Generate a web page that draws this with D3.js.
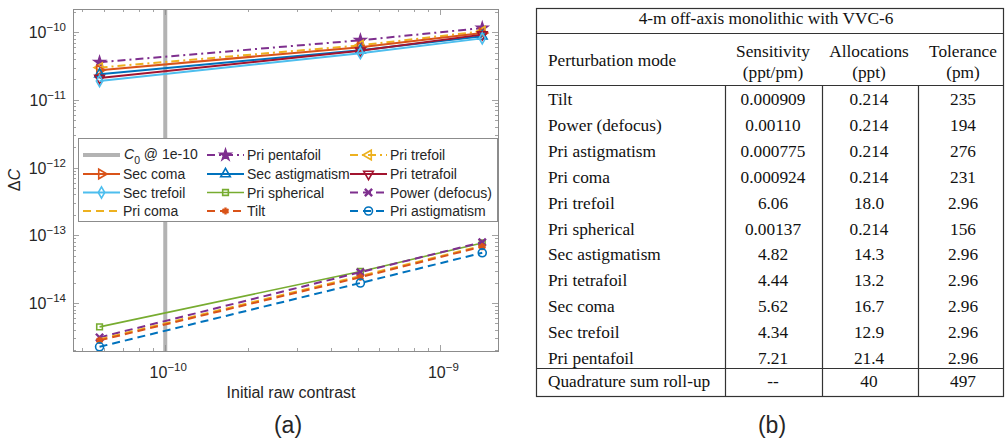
<!DOCTYPE html>
<html>
<head>
<script src="https://cdnjs.cloudflare.com/ajax/libs/d3/7.8.5/d3.min.js"></script>
<style>
    body { margin: 0; background: #fff; }
    svg text { font-family: "Liberation Sans", Arial, sans-serif; fill: #262626; }
    .tbl text { font-family: "Liberation Serif", "Times New Roman", serif; fill: #111; font-size: 17.3px; }
</style>
</head>
<body>
<script>
// ---- chart (a) data ----
var contrast = [5.77e-11, 5.12e-10, 1.42e-9];
var c0 = 1e-10;
var seriesNames = ["Pri pentafoil", "Pri trefoil", "Sec coma", "Sec astigmatism", "Pri tetrafoil",
    "Sec trefoil", "Pri spherical", "Power (defocus)", "Pri coma", "Tilt", "Pri astigmatism"];
var seriesValues = [
    [3.6e-11, 7.6e-11, 1.15e-10],   // Pri pentafoil
    [3.0e-11, 6.4e-11, 1.03e-10],   // Pri trefoil
    [2.75e-11, 6.0e-11, 9.7e-11],   // Sec coma
    [2.4e-11, 5.4e-11, 8.7e-11],    // Sec astigmatism
    [2.1e-11, 5.3e-11, 9.2e-11],    // Pri tetrafoil
    [1.9e-11, 4.9e-11, 8.1e-11],    // Sec trefoil
    [4.43e-15, 2.92e-14, 7.7e-14],  // Pri spherical
    [3.1e-15, 2.85e-14, 7.9e-14],   // Power (defocus)
    [2.9e-15, 2.5e-14, 7.0e-14],    // Pri coma
    [2.8e-15, 2.4e-14, 6.8e-14],    // Tilt
    [2.25e-15, 1.97e-14, 5.5e-14]   // Pri astigmatism
];
var legendOrder = ["C0", "Pri pentafoil", "Pri trefoil", "Sec coma", "Sec astigmatism", "Pri tetrafoil",
    "Sec trefoil", "Pri spherical", "Power (defocus)", "Pri coma", "Tilt", "Pri astigmatism"];
var yTickExp = [-14, -13, -12, -11, -10];
var xTickExp = [-10, -9];

// ---- table (b) data ----
var tableTitle = "4-m off-axis monolithic with VVC-6";
var headers = [["Perturbation mode"], ["Sensitivity", "(ppt/pm)"], ["Allocations", "(ppt)"], ["Tolerance", "(pm)"]];
var modes = ["Tilt", "Power (defocus)", "Pri astigmatism", "Pri coma", "Pri trefoil", "Pri spherical",
    "Sec astigmatism", "Pri tetrafoil", "Sec coma", "Sec trefoil", "Pri pentafoil"];
var sensitivity = ["0.000909", "0.00110", "0.000775", "0.000924", "6.06", "0.00137", "4.82", "4.44", "5.62", "4.34", "7.21"];
var allocations = ["0.214", "0.214", "0.214", "0.214", "18.0", "0.214", "14.3", "13.2", "16.7", "12.9", "21.4"];
var tolerance = ["235", "194", "276", "231", "2.96", "156", "2.96", "2.96", "2.96", "2.96", "2.96"];
var rollup = ["Quadrature sum roll-up", "--", "40", "497"];

// styles
var blue = "#0072BD", orange = "#D95319", yellow = "#EDB120", purple = "#7E2F8E",
    green = "#77AC30", cyan = "#4DBEEE", red = "#A2142F";
var DASH = "8,5", DASHDOT = "8,4,2,4";
var styles = {
    "Pri pentafoil":   {c: purple, dash: DASHDOT, m: "star"},
    "Pri trefoil":     {c: yellow, dash: DASHDOT, m: "triL"},
    "Sec coma":        {c: orange, dash: null, m: "triR"},
    "Sec astigmatism": {c: blue, dash: null, m: "triU"},
    "Pri tetrafoil":   {c: red, dash: null, m: "triD"},
    "Sec trefoil":     {c: cyan, dash: null, m: "diamond"},
    "Pri spherical":   {c: green, dash: null, m: "square", w: 1.6},
    "Power (defocus)": {c: purple, dash: DASH, m: "x"},
    "Pri coma":        {c: yellow, dash: DASH, m: null},
    "Tilt":            {c: orange, dash: DASH, m: "asterisk"},
    "Pri astigmatism": {c: blue, dash: DASH, m: "circle"}
};

var W = 1005, H = 441;
var svg = d3.select("body").append("svg").attr("width", W).attr("height", H);
svg.append("rect").attr("width", W).attr("height", H).attr("fill", "#fff");

var L = 73, R = 498, T = 9, B = 351;
var x = d3.scaleLog().domain([4.62e-11, 1.62e-9]).range([L, R]);
var y = d3.scaleLog().domain([1.95e-15, 2.2e-10]).range([B, T]);

var plot = svg.append("g");
svg.append("clipPath").attr("id", "clip").append("rect")
    .attr("x", L).attr("y", T).attr("width", R - L).attr("height", B - T);

// axis box and ticks
var axisCol = "#8c8c8c";
var ticks = svg.append("g").attr("stroke", axisCol).attr("stroke-width", 0.8);
function minorTicks(scale, lo, hi) {
    var out = [];
    for (var e = lo; e <= hi; e++) {
        for (var k = 1; k <= 9; k++) {
            var v = k * Math.pow(10, e);
            if (v >= scale.domain()[0] && v <= scale.domain()[1]) out.push({v: v, major: k === 1});
        }
    }
    return out;
}
minorTicks(y, -15, -10).forEach(function(t) {
    var len = t.major ? 6 : 3, yy = Math.round(y(t.v)) + 0.5;
    ticks.append("line").attr("x1", L).attr("x2", L + len).attr("y1", yy).attr("y2", yy);
    ticks.append("line").attr("x1", R).attr("x2", R - len).attr("y1", yy).attr("y2", yy);
});
minorTicks(x, -11, -9).forEach(function(t) {
    var len = t.major ? 6 : 3, xx = Math.round(x(t.v)) + 0.5;
    ticks.append("line").attr("y1", B).attr("y2", B - len).attr("x1", xx).attr("x2", xx);
    ticks.append("line").attr("y1", T).attr("y2", T + len).attr("x1", xx).attr("x2", xx);
});

// C0 line
plot.append("line")
    .attr("x1", x(c0)).attr("x2", x(c0)).attr("y1", T).attr("y2", B)
    .attr("stroke", "#b3b3b3").attr("stroke-width", 4);

// markers
function markerPath(m) {
    switch (m) {
        case "star": return d3.symbol(d3.symbolStar, 36)();
        case "triL": case "triR": case "triU": case "triD": return d3.symbol(d3.symbolTriangle, 40)();
        case "diamond": return d3.symbol(d3.symbolDiamond, 36)();
        case "square": return d3.symbol(d3.symbolSquare, 32)();
        case "x": return d3.symbol(d3.symbolTimes || d3.symbolX, 36)();
        case "asterisk": return d3.symbol(d3.symbolAsterisk, 36)();
        case "circle": return d3.symbol(d3.symbolCircle, 50)();
    }
    return null;
}
var rot = {triL: -90, triR: 90, triU: 0, triD: 180};
function drawMarker(g, m, c, px, py) {
    if (!m) return;
    var p = g.append("path").attr("d", markerPath(m))
        .attr("transform", "translate(" + px + "," + py + ")" + (rot[m] !== undefined ? " rotate(" + rot[m] + ")" : ""))
        .attr("stroke", c).attr("stroke-width", m === "x" || m === "asterisk" ? 2.4 : 1.6);
    if (m === "star" || m === "asterisk") p.attr("fill", c);
    else p.attr("fill", "none");
}

var line = d3.line().x(function(d) { return x(d[0]); }).y(function(d) { return y(d[1]); });
var series = plot.append("g").attr("clip-path", "url(#clip)");
seriesNames.forEach(function(name, i) {
    var st = styles[name];
    var pts = contrast.map(function(c, j) { return [c, seriesValues[i][j]]; });
    series.append("path").datum(pts).attr("d", line)
        .attr("fill", "none").attr("stroke", st.c).attr("stroke-width", st.w || 2)
        .attr("stroke-dasharray", st.dash);
    pts.forEach(function(p) { drawMarker(series, st.m, st.c, x(p[0]), y(p[1])); });
});

svg.append("rect").attr("x", L + 0.5).attr("y", T + 0.5).attr("width", R - L).attr("height", B - T)
    .attr("fill", "none").attr("stroke", axisCol).attr("stroke-width", 1);

// tick labels
yTickExp.forEach(function(e) {
    var t = svg.append("text").attr("x", 66).attr("y", y(Math.pow(10, e)) + 6)
        .attr("text-anchor", "end").style("font-size", "16px");
    t.append("tspan").text("10");
    t.append("tspan").attr("dy", -7).style("font-size", "11.5px").text("\u2212" + (-e));
});
xTickExp.forEach(function(e) {
    var t = svg.append("text").attr("x", x(Math.pow(10, e)) + 3).attr("y", 378)
        .attr("text-anchor", "middle").style("font-size", "16px");
    t.append("tspan").text("10");
    t.append("tspan").attr("dy", -7).style("font-size", "11.5px").text("\u2212" + (-e));
});

// axis labels
svg.append("text").attr("x", 291).attr("y", 398).attr("text-anchor", "middle")
    .style("font-size", "16px").text("Initial raw contrast");
var yl = svg.append("text").attr("transform", "translate(20,180) rotate(-90)")
    .attr("text-anchor", "middle").style("font-size", "16px");
yl.append("tspan").text("\u0394");
yl.append("tspan").style("font-style", "italic").text("C");
svg.append("text").attr("x", 288).attr("y", 433).attr("text-anchor", "middle")
    .style("font-size", "23px").text("(a)");

// legend
var lg = svg.append("g");
lg.append("rect").attr("x", 78.5).attr("y", 138.5).attr("width", 419).attr("height", 83)
    .attr("fill", "#fff").attr("stroke", axisCol).attr("stroke-width", 1);
var colX = [83, 207, 350];
var rowY = [155, 174, 192.5, 211];
legendOrder.forEach(function(name, i) {
    var cx = colX[i % 3], cy = rowY[Math.floor(i / 3)];
    var g = lg.append("g");
    if (name === "C0") {
        g.append("line").attr("x1", cx).attr("x2", cx + 37).attr("y1", cy).attr("y2", cy)
            .attr("stroke", "#b3b3b3").attr("stroke-width", 4);
        var t = g.append("text").attr("x", cx + 41).attr("y", cy + 4).style("font-size", "14px");
        t.append("tspan").style("font-style", "italic").text("C");
        t.append("tspan").attr("dy", 5).style("font-size", "10.5px").text("0");
        t.append("tspan").attr("dy", -5).text(" @ 1e-10");
        return;
    }
    var st = styles[name];
    g.append("line").attr("x1", cx).attr("x2", cx + 37).attr("y1", cy).attr("y2", cy)
        .attr("stroke", st.c).attr("stroke-width", st.w || 2).attr("stroke-dasharray", st.dash);
    drawMarker(g, st.m, st.c, cx + 18.5, cy);
    g.append("text").attr("x", cx + 40).attr("y", cy + 5).style("font-size", "14px").text(name);
});

// ---- table (b) ----
var tb = svg.append("g").attr("class", "tbl");
var tL = 536, tR = 1003, tT = 8, tB = 396;
var colLines = [725, 822, 918];
var colCenters = [0, 773, 869, 963];
var hTitle = 33, hHead = 85, hRoll = 368;
var rowStep = 25.9, firstRow = 100;
var lc = "#333";
tb.append("rect").attr("x", tL + 0.5).attr("y", tT + 0.5).attr("width", tR - tL).attr("height", tB - tT)
    .attr("fill", "none").attr("stroke", lc).attr("stroke-width", 1.2);
[hTitle, hHead, hRoll].forEach(function(h) {
    tb.append("line").attr("x1", tL).attr("x2", tR).attr("y1", h + 0.5).attr("y2", h + 0.5)
        .attr("stroke", lc).attr("stroke-width", 1.2);
});
colLines.forEach(function(c) {
    tb.append("line").attr("x1", c + 0.5).attr("x2", c + 0.5).attr("y1", hHead).attr("y2", tB)
        .attr("stroke", lc).attr("stroke-width", 1.2);
});
tb.append("text").attr("x", 766).attr("y", 24).attr("text-anchor", "middle").text(tableTitle);
tb.append("text").attr("x", 548).attr("y", 66).text(headers[0][0]);
for (var h = 1; h < 4; h++) {
    tb.append("text").attr("x", colCenters[h]).attr("y", 57).attr("text-anchor", "middle").text(headers[h][0]);
    tb.append("text").attr("x", colCenters[h]).attr("y", 78).attr("text-anchor", "middle").text(headers[h][1]);
}
modes.forEach(function(m, i) {
    var yy = firstRow + i * rowStep + 5;
    tb.append("text").attr("x", 548).attr("y", yy).text(m);
    tb.append("text").attr("x", colCenters[1]).attr("y", yy).attr("text-anchor", "middle").text(sensitivity[i]);
    tb.append("text").attr("x", colCenters[2]).attr("y", yy).attr("text-anchor", "middle").text(allocations[i]);
    tb.append("text").attr("x", colCenters[3]).attr("y", yy).attr("text-anchor", "middle").text(tolerance[i]);
});
tb.append("text").attr("x", 548).attr("y", 387).text(rollup[0]);
for (var r = 1; r < 4; r++) {
    tb.append("text").attr("x", colCenters[r]).attr("y", 387).attr("text-anchor", "middle").text(rollup[r]);
}
svg.append("text").attr("x", 772).attr("y", 433).attr("text-anchor", "middle")
    .style("font-size", "23px").text("(b)");
</script>
</body>
</html>
